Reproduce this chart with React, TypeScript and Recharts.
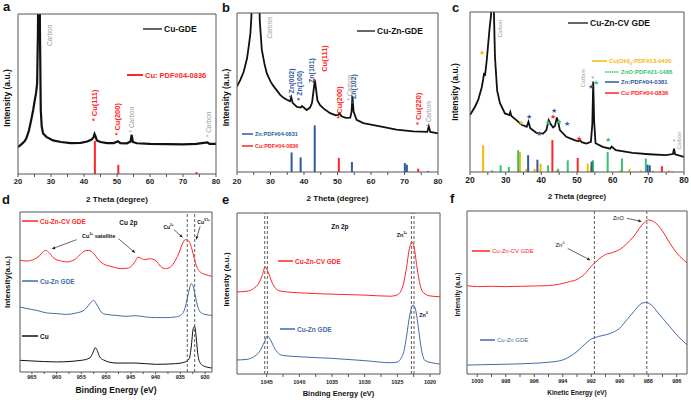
import React from 'react';
import { LineChart, Line, XAxis, YAxis, ReferenceLine, ReferenceDot, Legend } from 'recharts';

type P = [number, number];
type Tag = { x: number; y: number; text: string };
type Note = { x: number; y: number; text: string; sup?: string; tail?: string };
type Arrow = { from: P; to: P };

const FONT = '"Liberation Sans", Arial, sans-serif';
const RED = '#ff2626';
const BLUE = '#3f6ca8';
const ZN_BLUE = '#2f5a9e';
const YELLOW = '#f6b800';
const GREEN = '#33c46c';
const GREY = '#9a9a9a';
const FRAME = '#555';

// ---- XRD (2 theta, intensity 0-100 of plot height) ----
const XRD_TICKS = [20, 25, 30, 35, 40, 45, 50, 55, 60, 65, 70, 75, 80];

const A_CU_GDE: P[] = [[20,16.8],[21,18.5],[22,20.5],[22.5,22.1],[23.3,27],[24,33.7],[24.6,40],[25.1,46.3],[25.5,51],[25.8,56.8],[26.05,90],[26.2,140],[26.5,140],[26.65,90],[26.9,40],[27.2,29.5],[27.6,25.3],[28.6,23.2],[30.6,21],[33,20],[36,19.3],[39,19.5],[41,20.3],[42.3,21.5],[42.9,23],[43.2,25],[43.5,23.5],[43.9,21],[45,20],[47,19.3],[49,19.3],[50.3,20.5],[51,19.3],[53,19.2],[54.1,20.3],[54.45,24.5],[54.8,20],[56,19.2],[60,18.8],[65,18.7],[70,18.5],[74,18.8],[77.4,19.8],[78,18.8],[80,18.8]];
const A_CU_REF: P[] = [[43.3,20.6],[50.4,5.7],[74.1,1.2]];
const A_RED_TAGS: Tag[] = [{ x: 43.3, y: 33, text: '* Cu(111)' }, { x: 50.3, y: 24, text: '* Cu(200)' }];
const A_GREY_TAGS: Tag[] = [{ x: 29.4, y: 80, text: 'Carbon' }, { x: 54.5, y: 26, text: '* Carbon' }, { x: 77.7, y: 23, text: '* Carbon' }];

const B_CUZN_GDE: P[] = [[20,53.8],[21,58],[22,63],[23,71.5],[23.5,79],[24,87],[24.3,97.7],[24.6,130],[26.5,130],[26.8,95],[27.4,77],[28.2,68],[28.9,62],[30,57],[30.9,54],[32,51],[32.9,48.5],[34,46.5],[34.9,45.4],[35.8,44.5],[36.2,47],[36.6,43.5],[37.9,41],[39,40.5],[39.4,41.5],[40.8,39],[41.8,40.5],[42.4,43.5],[42.9,52],[43.25,58],[43.6,52],[44,45],[44.8,42],[45.8,40],[47.8,37],[49.5,35.6],[50.3,36],[50.6,37],[51.2,35],[52.5,34],[53.8,34.2],[54.2,38],[54.45,47.5],[54.8,38],[55.7,32.8],[57.7,30.8],[60,29.8],[62.7,28.7],[67.6,26.6],[72.6,25.5],[76.8,25.2],[77.25,28.7],[77.7,25.2],[80,24.3]];
const B_ZN_REF: P[] = [[36.3,12.3],[39.0,9.2],[43.2,29.3],[54.3,6.3],[70.1,5.6],[70.7,4.6],[77.0,0.6]];
const B_CU_REF: P[] = [[50.4,8.8],[74.1,2.1]];
const B_BLUE_TAGS: Tag[] = [{ x: 36.2, y: 46.5, text: '* Zn(002)' }, { x: 38.8, y: 45, text: '* Zn(100)' }, { x: 42.1, y: 56, text: 'Zn(101)' }, { x: 54.9, y: 43, text: '* Zn(102)' }];
const B_RED_TAGS: Tag[] = [{ x: 46.1, y: 63, text: 'Cu(111)' }, { x: 50.5, y: 33.5, text: '* Cu(200)' }, { x: 74.1, y: 29.5, text: '* Cu(220)' }, { x: 43.3, y: 57, text: '*' }];
const B_GREY_TAGS: Tag[] = [{ x: 29.7, y: 84, text: 'Carbon' }, { x: 53.5, y: 45, text: '* Carbon' }, { x: 77.3, y: 28.5, text: '* Carbon' }];

const C_CUZN_CV: P[] = [[20,35.6],[21.4,40.8],[22.3,45],[23.3,53],[23.7,58],[23.95,62],[24.2,60],[24.7,70],[25.1,80],[25.5,90],[25.9,98],[26.1,130],[26.4,130],[26.6,110],[27,72],[27.6,51],[28.4,43],[29.8,36.6],[31,35.6],[31.3,37.5],[31.6,35],[33,32.4],[34.5,29.5],[35.9,28.2],[36.4,31.4],[36.9,27.4],[38.6,24.5],[40.5,24],[41.4,26],[42.05,32.4],[42.6,30],[43.3,27.8],[43.8,28.7],[44.35,34.1],[44.75,31],[45.2,26.2],[47,22],[49.3,19.9],[50.4,19.2],[50.9,19.9],[51.3,18.6],[52.6,17.8],[53.9,18.8],[54.3,30],[54.55,56.5],[54.8,32],[55.2,18],[57.2,15.7],[59.3,14.6],[59.7,15.9],[60.9,13.6],[65.6,11.9],[70.2,11.1],[74.9,10.5],[76.9,11.2],[77.2,14.6],[77.5,11.1],[80,9.4]];
const C_CUOH2_REF: P[] = [[23.7,16.7],[34.0,12.5],[35.8,2],[38.1,2],[39.8,5.2],[44.2,1],[53.0,5.2],[53.9,3.5],[62.1,1],[64.7,2],[67.9,1],[71.3,0.8],[75.8,1],[76.7,0.6]];
const C_ZNO_REF: P[] = [[26.2,1],[28.6,4.2],[30.9,3.1],[33.5,13.6],[41.9,4.2],[44.7,2],[47.4,7.3],[54.5,7.3],[58.6,12.5],[62.6,8.4],[69.3,8.4]];
const C_ZN_REF: P[] = [[36.3,10.5],[38.9,7.7],[54.1,6.5],[69.8,4.6],[70.4,4.2]];
const C_CU_REF: P[] = [[43.1,19.9],[50.2,8.8],[73.8,3.6]];
const C_YELLOW_STARS: P[] = [[23.5,74.7],[34.4,30.8]];
const C_BLUE_STARS: P[] = [[36.5,34.5],[39.3,24.1],[43.5,38.3],[47.3,30.3],[54.0,53.3]];
const C_GREEN_STARS: P[] = [[41.9,30.8],[44.9,31.4],[55.2,55.9],[58.8,20.3]];
const C_RED_STARS: P[] = [[43.3,34.5],[50.7,20.9]];
const C_GREY_STARS: P[] = [[54.4,58.6],[77.2,18.8]];
const C_GREY_TAGS: Tag[] = [{ x: 28.4, y: 84, text: 'Carbon' }, { x: 51.6, y: 53, text: 'Carbon' }, { x: 78.6, y: 14, text: 'Carbon' }];

// ---- XPS / Auger ----
const D_TICKS = [965, 962.5, 960, 957.5, 955, 952.5, 950, 947.5, 945, 942.5, 940, 937.5, 935, 932.5, 930];
const D_CV: P[] = [[967.4,69.8],[966,69.4],[964.5,70.5],[963.5,72.5],[962.8,75],[962.2,76],[961.5,74.5],[960.5,71],[959,69.3],[958,68.8],[956.5,70],[955.2,73.5],[954.2,75.8],[953.5,76],[952.5,74],[951.5,70],[950.5,67.5],[949,66],[947,64.6],[945.5,65],[944.5,67.5],[944,69.8],[943.6,71.8],[943.1,71.3],[942.2,70.2],[941.2,70.8],[940.3,70.2],[939.5,68],[939,66],[938,64.6],[937,65.6],[936,69.8],[935.2,75],[934.6,80],[934,82.7],[933.5,82.3],[933,80.2],[932.5,75],[932,68.8],[931.5,64.6],[931,62.5],[930,61],[928.6,59.8]];
const D_CUZN: P[] = [[967.4,40.6],[966,39.6],[964,38.5],[962,36.9],[960,36.5],[958,36],[956,36.9],[954.5,38.5],[953.6,41.5],[953,43.8],[952.5,44.8],[952,42.7],[951.4,39.5],[951,37.5],[950,36],[948,35.4],[946,34.8],[944,35.2],[942,34.4],[940,34],[938,34],[936,34.4],[935,35.4],[934.2,38.5],[933.7,44.5],[933.2,51.5],[932.8,55.2],[932.4,53.5],[932,47.9],[931.5,41],[931,37.5],[930,36],[928.6,35.4]];
const D_CU: P[] = [[967.4,7.3],[965,6.9],[960,6.3],[955,7.3],[953.3,8.8],[952.6,12.5],[952.2,15.2],[951.8,13.5],[951.3,9.5],[950.5,7.5],[948,5.6],[944,5.6],[940,4.8],[936,5.2],[934,6.3],[933.2,8.3],[932.8,15.6],[932.4,27],[932.1,28.5],[931.8,22],[931.5,12],[931.1,6.3],[930.3,3.8],[928.6,2.5]];
const D_LINES = [933.6, 932.1];
const D_NOTES: Note[] = [{ x: 945.5, y: 93.5, text: 'Cu 2p' }];
const D_SMALL_NOTES: Note[] = [{ x: 937.4, y: 90.5, text: 'Cu', sup: '2+' }, { x: 930.3, y: 93.5, text: 'Cu', sup: '0/1+' }];
const D_SAT_NOTES: Note[] = [{ x: 951.5, y: 84.8, text: 'Cu', sup: '2+', tail: ' satellite' }];
const D_ARROWS: Arrow[] = [
  { from: [956.0, 82.7], to: [961.0, 76.9] },
  { from: [947.5, 83.3], to: [944.1, 74.4] },
  { from: [936.3, 89.0], to: [934.5, 84.0] },
  { from: [931.0, 91.0], to: [931.8, 82.7] },
];

const E_TICKS = [1045, 1042.5, 1040, 1037.5, 1035, 1032.5, 1030, 1027.5, 1025, 1022.5, 1020];
const E_CV: P[] = [[1049.6,51],[1048,51.4],[1047,53.1],[1046.2,56.5],[1045.7,61],[1045.25,66.5],[1044.8,63.4],[1044.2,57],[1043.6,53],[1043,51.6],[1042,51],[1040,50.4],[1035,49.6],[1030,49],[1026,48.3],[1025,49.2],[1024.4,52],[1024,57],[1023.6,66],[1023.2,77],[1022.8,82],[1022.4,78],[1022,66.5],[1021.5,55],[1021,50.5],[1020,48.5],[1018.5,48]];
const E_CUZN: P[] = [[1049.6,8.7],[1048,9.1],[1047,10.7],[1046,14.5],[1045.4,19.5],[1044.9,23.6],[1044.4,21],[1043.8,16],[1043.2,12.8],[1042.5,11.5],[1040,10.7],[1035,9.7],[1030,8.3],[1026,7],[1025,7.4],[1024.4,10],[1024,14],[1023.6,23.1],[1023.1,36.6],[1022.6,42.8],[1022.2,39.7],[1021.8,29.3],[1021.3,14.9],[1020.8,8.5],[1019.5,6.8],[1018.5,6.2]];
const E_LINES = [1045.3, 1044.9, 1022.85, 1022.45];
const E_NOTES: Note[] = [{ x: 1033.8, y: 91.5, text: 'Zn 2p' }];
const E_SMALL_NOTES: Note[] = [{ x: 1024.3, y: 86.5, text: 'Zn', sup: '2+' }, { x: 1021.0, y: 36.5, text: 'Zn', sup: '0' }];

const F_TICKS = [1000, 999, 998, 997, 996, 995, 994, 993, 992, 991, 990, 989, 988, 987, 986];
const F_CV: P[] = [[1000.7,54.2],[1000,53.6],[999,53.8],[998,53.6],[997,53.8],[996,54],[995,54.2],[994.3,55],[993.6,56.5],[993,58],[992.5,61],[992,66.1],[991.5,70.2],[991,73.3],[990.5,74.5],[990,76.4],[989.5,80],[989,84.6],[988.5,90.8],[988,94.5],[987.5,92.8],[987,87.7],[986.5,80.5],[986,74.3],[985.28,68.2]];
const F_CUZN: P[] = [[1000.7,5.5],[998,6],[996,6.6],[995,7.2],[994,8.6],[993.5,10.7],[993,13.8],[992.5,17.9],[992,21.4],[991.5,23],[991,24],[990.5,25.5],[990,28.1],[989.5,33.3],[989,38.4],[988.5,43.1],[988.2,43.9],[987.8,42.5],[987.3,37.4],[986.5,29.2],[986,24],[985.28,17.9]];
const F_LINES = [991.78, 988.1];
const F_NOTES: Note[] = [{ x: 990.1, y: 95.5, text: 'ZnO' }];
const F_ZN_NOTES: Note[] = [{ x: 994.2, y: 79, text: 'Zn', sup: '0' }];
const F_ARROWS: Arrow[] = [
  { from: [989.5, 95.5], to: [988.45, 93.6] },
  { from: [993.65, 77], to: [992.05, 69.8] },
];

const pts = (a: P[]) => a.map(([x, y]) => ({ x, y }));
const every = (n: number) => (v: number) => (Math.abs(v % n) < 1e-6 ? String(v) : '');

type AxisCfg = {
  domain: [number, number]; ticks: number[]; reversed?: boolean; fmt: (v: number) => string;
  font: number; tickSize: number; tickMargin: number;
  xTitle: string; xFont: number; xDy: number;
  yTitle: string; yFont: number; yDx: number; yDy: number;
};

// bottom axis carries ticks and title; the other three sides only close the frame
const axes = (c: AxisCfg) => [
  <XAxis key="xb" type="number" dataKey="x" domain={c.domain} ticks={c.ticks} reversed={c.reversed}
    allowDataOverflow interval={0} height={26} tickSize={c.tickSize} tickMargin={c.tickMargin}
    tickFormatter={c.fmt} axisLine={{ stroke: FRAME }} tickLine={{ stroke: FRAME }}
    tick={{ fontSize: c.font, fontWeight: 700, fill: '#222', fontFamily: FONT }}
    label={(p: any) => (
      <text x={p.viewBox.x + p.viewBox.width / 2} y={p.viewBox.y + c.xDy} textAnchor="middle"
        fontSize={c.xFont} fontWeight={700} fontFamily={FONT} fill="#111">{c.xTitle}</text>
    )} />,
  <XAxis key="xt" xAxisId="top" orientation="top" type="number" domain={c.domain} allowDataOverflow
    height={1} tick={false} tickLine={false} axisLine={{ stroke: FRAME }} />,
  <YAxis key="yl" type="number" domain={[0, 100]} allowDataOverflow width={1} tick={false}
    tickLine={false} axisLine={{ stroke: FRAME }}
    label={(p: any) => {
      const x = p.viewBox.x + p.viewBox.width - c.yDx;
      const y = p.viewBox.y + p.viewBox.height / 2 + c.yDy;
      return (
        <text x={x} y={y} transform={`rotate(-90 ${x} ${y})`} textAnchor="middle" dominantBaseline="central"
          fontSize={c.yFont} fontWeight={700} fontFamily={FONT} fill="#111">{c.yTitle}</text>
      );
    }} />,
  <YAxis key="yr" yAxisId="r" orientation="right" type="number" domain={[0, 100]} allowDataOverflow
    width={1} tick={false} tickLine={false} axisLine={{ stroke: FRAME }} />,
];

const refBars = (list: P[], color: string, key: string, w = 2) =>
  list.map(([x, h], i) => (
    <ReferenceLine key={key + i} segment={[{ x, y: 0 }, { x, y: h }]} stroke={color} strokeWidth={w} ifOverflow="visible" />
  ));

const vTags = (list: Tag[], color: string, size: number, weight: number, key: string) =>
  list.map((t, i) => (
    <ReferenceDot key={key + i} x={t.x} y={t.y} r={0} ifOverflow="visible"
      shape={(s: any) => (
        <text x={s.cx} y={s.cy} transform={`rotate(-90 ${s.cx} ${s.cy})`} dominantBaseline="central"
          fill={color} fontSize={size} fontWeight={weight} fontFamily={FONT}>{t.text}</text>
      )} />
  ));

const stars = (list: P[], color: string, ch: string, size: number, key: string) =>
  list.map(([x, y], i) => (
    <ReferenceDot key={key + i} x={x} y={y} r={0} ifOverflow="visible"
      shape={(s: any) => (
        <text x={s.cx} y={s.cy} textAnchor="middle" dominantBaseline="central" fill={color}
          fontSize={size} fontFamily={FONT}>{ch}</text>
      )} />
  ));

const notes = (list: Note[], size: number, weight: number, key: string, color = '#111') =>
  list.map((n, i) => (
    <ReferenceDot key={key + i} x={n.x} y={n.y} r={0} ifOverflow="visible"
      shape={(s: any) => (
        <text x={s.cx} y={s.cy} textAnchor="middle" dominantBaseline="central" fill={color}
          fontSize={size} fontWeight={weight} fontFamily={FONT}>
          {n.text}
          {n.sup && <tspan dy={-size * 0.4} fontSize={size * 0.6}>{n.sup}</tspan>}
          {n.tail && <tspan dy={size * 0.4}>{n.tail}</tspan>}
        </text>
      )} />
  ));

const arrowShape = (s: any) => {
  const { x1, y1, x2, y2 } = s;
  const a = Math.atan2(y2 - y1, x2 - x1);
  const bx = x2 - 3.5 * Math.cos(a);
  const by = y2 - 3.5 * Math.sin(a);
  const px = -Math.sin(a) * 1.5;
  const py = Math.cos(a) * 1.5;
  return (
    <g>
      <line x1={x1} y1={y1} x2={bx} y2={by} stroke="#222" strokeWidth={0.7} />
      <polygon points={`${x2},${y2} ${bx + px},${by + py} ${bx - px},${by - py}`} fill="#222" />
    </g>
  );
};

const arrows = (list: Arrow[], key: string) =>
  list.map((a, i) => (
    <ReferenceLine key={key + i} segment={[{ x: a.from[0], y: a.from[1] }, { x: a.to[0], y: a.to[1] }]}
      ifOverflow="visible" shape={arrowShape} />
  ));

const dashes = (xs: number[], key: string) =>
  xs.map((x, i) => (
    <ReferenceLine key={key + i} x={x} stroke="#333" strokeWidth={0.8} strokeDasharray="3 2" ifOverflow="visible" />
  ));

type Key = {
  x: number; y: number; len: number; color: string; label: React.ReactNode; size: number;
  bold?: boolean; text?: string; dash?: string; w?: number;
};

const keys = (w: number, h: number, list: Key[]) => (
  <Legend layout="horizontal" verticalAlign="middle" align="center"
    wrapperStyle={{ left: 0, top: 0, width: w, height: h, pointerEvents: 'none' }}
    content={() => (
      <svg width={w} height={h} style={{ position: 'absolute', left: 0, top: 0, overflow: 'visible' }}>
        {list.map((k, i) => (
          <g key={i}>
            <line x1={k.x} x2={k.x + k.len} y1={k.y} y2={k.y} stroke={k.color} strokeWidth={k.w ?? 1.5} strokeDasharray={k.dash} />
            <text x={k.x + k.len + 2} y={k.y} dominantBaseline="central" fill={k.text ?? k.color}
              fontSize={k.size} fontWeight={k.bold === false ? 400 : 700} fontFamily={FONT}>{k.label}</text>
          </g>
        ))}
      </svg>
    )} />
);

const box = (left: number, top: number): React.CSSProperties => ({ position: 'absolute', left, top });

const PanelA = () => (
  <div style={box(0, 0)}>
    <LineChart width={225} height={205} margin={{ top: 13, left: 17, right: 8, bottom: 5 }}>
      {axes({ domain: [20, 80], ticks: XRD_TICKS, fmt: every(10), font: 7.5, tickSize: 3, tickMargin: 2,
        xTitle: '2 Theta (degree)', xFont: 8, xDy: 28, yTitle: 'Intensity (a.u.)', yFont: 8.5, yDx: 11.5, yDy: 4 })}
      {refBars(A_CU_REF, RED, 'ar')}
      <Line data={pts(A_CU_GDE)} dataKey="y" name="Cu-GDE" type="linear" stroke="#111" strokeWidth={2.2} dot={false} isAnimationActive={false} />
      {vTags(A_RED_TAGS, RED, 7.5, 700, 'at')}
      {vTags(A_GREY_TAGS, GREY, 6.5, 400, 'ag')}
      {keys(225, 205, [
        { x: 143, y: 29, len: 19, color: '#333', text: '#111', label: 'Cu-GDE', size: 8.5 },
        { x: 127, y: 75, len: 16, color: RED, label: 'Cu: PDF#04-0836', size: 7.5, w: 2 },
      ])}
    </LineChart>
  </div>
);

const PanelB = () => (
  <div style={box(220, 0)}>
    <LineChart width={225} height={205} margin={{ top: 12, left: 16, right: 6, bottom: 7 }}>
      {axes({ domain: [20, 80], ticks: XRD_TICKS, fmt: every(10), font: 8, tickSize: 3, tickMargin: 3,
        xTitle: '2 Theta (degree)', xFont: 8, xDy: 29, yTitle: 'Intensity (a.u.)', yFont: 8.5, yDx: 11, yDy: 5 })}
      {refBars(B_ZN_REF, ZN_BLUE, 'bz')}
      {refBars(B_CU_REF, RED, 'bc')}
      <Line data={pts(B_CUZN_GDE)} dataKey="y" name="Cu-Zn-GDE" type="linear" stroke="#111" strokeWidth={1.8} dot={false} isAnimationActive={false} />
      {vTags(B_BLUE_TAGS, ZN_BLUE, 7, 700, 'bb')}
      {vTags(B_RED_TAGS, RED, 7.5, 700, 'br')}
      {vTags(B_GREY_TAGS, GREY, 6.5, 400, 'bg')}
      {keys(225, 205, [
        { x: 137, y: 31, len: 18, color: '#333', text: '#111', label: 'Cu-Zn-GDE', size: 8.5 },
        { x: 22, y: 134, len: 11, color: ZN_BLUE, label: 'Zn:PDF#04-0831', size: 5.5 },
        { x: 22, y: 146, len: 11, color: RED, label: 'Cu:PDF#04-0836', size: 5.5 },
      ])}
    </LineChart>
  </div>
);

const PanelC = () => (
  <div style={box(450, 0)}>
    <LineChart width={241} height={205} margin={{ top: 11, left: 19, right: 6, bottom: 7 }}>
      {axes({ domain: [20, 80], ticks: XRD_TICKS, fmt: every(10), font: 8.5, tickSize: 3, tickMargin: 2,
        xTitle: '2 Theta (degree)', xFont: 7.5, xDy: 27, yTitle: 'Intensity (a.u.)', yFont: 8.5, yDx: 15, yDy: 0 })}
      {refBars(C_CUOH2_REF, YELLOW, 'cy')}
      {refBars(C_ZNO_REF, GREEN, 'cg')}
      {refBars(C_ZN_REF, ZN_BLUE, 'cb')}
      {refBars(C_CU_REF, RED, 'cr')}
      <Line data={pts(C_CUZN_CV)} dataKey="y" name="Cu-Zn-CV GDE" type="linear" stroke="#111" strokeWidth={1.8} dot={false} isAnimationActive={false} />
      {stars(C_YELLOW_STARS, YELLOW, '★', 6.5, 'sy')}
      {stars(C_BLUE_STARS, ZN_BLUE, '★', 6.5, 'sb')}
      {stars(C_GREEN_STARS, GREEN, '★', 6.5, 'sg')}
      {stars(C_RED_STARS, RED, '★', 6.5, 'sr')}
      {stars(C_GREY_STARS, GREY, '*', 8, 'sa')}
      {vTags(C_GREY_TAGS, GREY, 5.5, 400, 'cgt')}
      {keys(241, 205, [
        { x: 118, y: 23, len: 20, color: '#333', text: '#111', label: 'Cu-Zn-CV GDE', size: 8.5 },
        { x: 142, y: 61, len: 15, color: YELLOW, label: <>Cu(OH)<tspan dy={1.5} fontSize={4}>2</tspan><tspan dy={-1.5}>:PDF#13-0420</tspan></>, size: 6 },
        { x: 155, y: 72, len: 14, color: GREEN, label: 'ZnO:PDF#21-1486', size: 6, dash: '1.5 0.8' },
        { x: 155, y: 82, len: 14, color: ZN_BLUE, label: 'Zn:PDF#04-0381', size: 6 },
        { x: 155, y: 93, len: 14, color: RED, label: 'Cu:PDF#04-0836', size: 6 },
      ])}
    </LineChart>
  </div>
);

const PanelD = () => (
  <div style={box(0, 200)}>
    <LineChart width={225} height={200} margin={{ top: 11, left: 19, right: 12, bottom: 2 }}>
      {axes({ domain: [928.6, 967.4], ticks: D_TICKS, reversed: true, fmt: every(5), font: 5.5, tickSize: 2, tickMargin: 1,
        xTitle: 'Binding Energy (eV)', xFont: 8.5, xDy: 21, yTitle: 'Intensity(a.u.)', yFont: 8, yDx: 13, yDy: -10 })}
      {dashes(D_LINES, 'dd')}
      <Line data={pts(D_CV)} dataKey="y" name="Cu-Zn-CV GDE" type="monotone" stroke={RED} strokeWidth={1} dot={false} isAnimationActive={false} />
      <Line data={pts(D_CUZN)} dataKey="y" name="Cu-Zn GDE" type="monotone" stroke={BLUE} strokeWidth={1} dot={false} isAnimationActive={false} />
      <Line data={pts(D_CU)} dataKey="y" name="Cu" type="monotone" stroke="#111" strokeWidth={1} dot={false} isAnimationActive={false} />
      {notes(D_NOTES, 6.5, 700, 'dn')}
      {notes(D_SMALL_NOTES, 5, 700, 'ds')}
      {notes(D_SAT_NOTES, 5.5, 700, 'dt')}
      {arrows(D_ARROWS, 'da')}
      {keys(225, 200, [
        { x: 22, y: 21, len: 16, color: RED, label: 'Cu-Zn-CV GDE', size: 6.5 },
        { x: 22, y: 81, len: 16, color: BLUE, label: 'Cu-Zn GDE', size: 6.5 },
        { x: 22, y: 136, len: 16, color: '#111', label: 'Cu', size: 6.5 },
      ])}
    </LineChart>
  </div>
);

const PanelE = () => (
  <div style={box(220, 200)}>
    <LineChart width={228} height={200} margin={{ top: 12, left: 16, right: 7, bottom: 0 }}>
      {axes({ domain: [1018.47, 1049.55], ticks: E_TICKS, reversed: true, fmt: every(5), font: 5.5, tickSize: 3, tickMargin: 3,
        xTitle: 'Binding Energy (eV)', xFont: 7.5, xDy: 22, yTitle: 'Intensity (a.u.)', yFont: 8, yDx: 11, yDy: -14 })}
      {dashes(E_LINES, 'ed')}
      <Line data={pts(E_CV)} dataKey="y" name="Cu-Zn-CV GDE" type="monotone" stroke={RED} strokeWidth={1} dot={false} isAnimationActive={false} />
      <Line data={pts(E_CUZN)} dataKey="y" name="Cu-Zn GDE" type="monotone" stroke={BLUE} strokeWidth={1} dot={false} isAnimationActive={false} />
      {notes(E_NOTES, 6.5, 700, 'en')}
      {notes(E_SMALL_NOTES, 5.5, 700, 'es')}
      {keys(228, 200, [
        { x: 58, y: 61, len: 15, color: RED, label: 'Cu-Zn-CV GDE', size: 6.5 },
        { x: 60, y: 129, len: 15, color: BLUE, label: 'Cu-Zn GDE', size: 6.5 },
      ])}
    </LineChart>
  </div>
);

const PanelF = () => (
  <div style={box(450, 200)}>
    <LineChart width={241} height={200} margin={{ top: 10, left: 16, right: 3, bottom: 0 }}>
      {axes({ domain: [985.28, 1000.72], ticks: F_TICKS, reversed: true, fmt: every(2), font: 5.5, tickSize: 3, tickMargin: 2,
        xTitle: 'Kinetic Energy (eV)', xFont: 6.5, xDy: 21, yTitle: 'Intensity (a.u.)', yFont: 6.5, yDx: 10, yDy: 2 })}
      {dashes(F_LINES, 'fd')}
      <Line data={pts(F_CV)} dataKey="y" name="Cu-Zn-CV GDE" type="monotone" stroke={RED} strokeWidth={1} dot={false} isAnimationActive={false} />
      <Line data={pts(F_CUZN)} dataKey="y" name="Cu-Zn GDE" type="monotone" stroke={BLUE} strokeWidth={1} dot={false} isAnimationActive={false} />
      {notes(F_NOTES, 5.5, 400, 'fn')}
      {notes(F_ZN_NOTES, 6, 400, 'fz')}
      {arrows(F_ARROWS, 'fa')}
      {keys(241, 200, [
        { x: 22, y: 51, len: 18, color: RED, label: 'Cu-Zn-CV GDE', size: 6, bold: false },
        { x: 30, y: 140, len: 15, color: BLUE, label: 'Cu-Zn GDE', size: 6, bold: false },
      ])}
    </LineChart>
  </div>
);

const LETTERS: [string, number, number][] = [['a', 3, 11], ['b', 222, 12], ['c', 452, 12], ['d', 2, 204], ['e', 222, 204], ['f', 450, 203]];

export default function App() {
  return (
    <div style={{ position: 'absolute', left: 0, top: 0, width: 691, height: 400, background: '#fff', overflow: 'hidden' }}>
      <PanelA />
      <PanelB />
      <PanelC />
      <PanelD />
      <PanelE />
      <PanelF />
      <svg width={691} height={400} style={{ position: 'absolute', left: 0, top: 0, pointerEvents: 'none' }}>
        {LETTERS.map(([t, x, y]) => (
          <text key={t} x={x} y={y} fontSize={13} fontWeight={700} fontFamily={FONT} fill="#111">{t}</text>
        ))}
      </svg>
    </div>
  );
}
